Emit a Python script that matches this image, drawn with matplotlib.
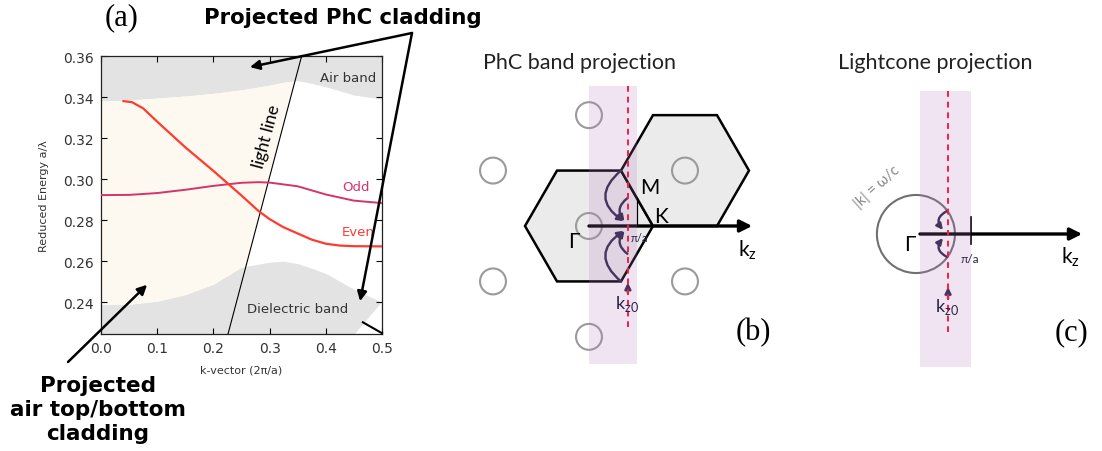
import numpy as np
import matplotlib.pyplot as plt
from matplotlib.patches import Polygon, Circle, Rectangle, FancyArrowPatch

W, H = 1102, 452

# --- panel (a): projected band diagram ---
k_band = [0.0, 0.05, 0.1, 0.15, 0.2, 0.25, 0.3, 0.325, 0.35, 0.375, 0.4, 0.45, 0.5]
air_low = [0.338, 0.3385, 0.3395, 0.3405, 0.3418, 0.3435, 0.3458, 0.3472, 0.348,
           0.3467, 0.345, 0.341, 0.339]
diel_top = [0.239, 0.239, 0.2405, 0.2437, 0.2488, 0.2571, 0.2595, 0.26, 0.2588,
            0.2565, 0.254, 0.2463, 0.24]
diel_cut_k = [0.452, 0.5]
diel_cut_w = [0.2245, 0.24]

k_even = [0.04, 0.055, 0.075, 0.1, 0.15, 0.2, 0.25, 0.28, 0.3, 0.325, 0.35, 0.375,
          0.4, 0.425, 0.45, 0.5]
w_even = [0.338, 0.3375, 0.3345, 0.328, 0.3155, 0.304, 0.292, 0.2845, 0.2805,
          0.2765, 0.2735, 0.2705, 0.2685, 0.2676, 0.2673, 0.2672]
k_odd = [0.0, 0.05, 0.1, 0.15, 0.2, 0.25, 0.28, 0.3, 0.35, 0.4, 0.45, 0.5]
w_odd = [0.2922, 0.2923, 0.2932, 0.2948, 0.2967, 0.2982, 0.2985, 0.2983, 0.2965,
         0.2925, 0.2895, 0.2883]

k_light = [0.226, 0.357]
w_light = [0.2245, 0.36]

k_ticks = [0.0, 0.1, 0.2, 0.3, 0.4, 0.5]
w_ticks = [0.24, 0.26, 0.28, 0.30, 0.32, 0.34, 0.36]
k_lim = (0.0, 0.5)
w_lim = (0.2245, 0.36)

GRAY = '#e3e3e3'
CREAM = '#fdf9f0'
RED = '#ff3b2f'
CRIMSON = '#d6336c'
NAVY = '#2b2347'
BAND = '#b478be'
SANS = ['Lato', 'DejaVu Sans']
SERIF = 'Liberation Serif'

fig = plt.figure(figsize=(W / 100, H / 100), dpi=100)
ax = fig.add_axes([101 / W, 1 - 335 / H, 281 / W, 278 / H])
ax.set_xlim(*k_lim)
ax.set_ylim(*w_lim)

# air band above, dielectric band below
ax.fill_between(k_band, air_low, w_lim[1], color=GRAY, lw=0, zorder=1)
diel = ax.fill_between(k_band, w_lim[0], diel_top, color=GRAY, lw=0, zorder=1)
diel_clip = Polygon([(k_lim[0], w_lim[0]), (diel_cut_k[0], diel_cut_w[0]),
                     (diel_cut_k[1], diel_cut_w[1]), (k_lim[1], w_lim[1]),
                     (k_lim[0], w_lim[1])], transform=ax.transData)
diel.set_clip_path(diel_clip)

# guided region below the light line
cream = ax.fill_between(k_band, diel_top, air_low, color=CREAM, lw=0, zorder=1)
cone = Polygon([(k_lim[0], w_light[0]), (k_light[0], w_light[0]),
                (k_light[1], w_light[1]), (k_lim[0], w_light[1])],
               transform=ax.transData)
cream.set_clip_path(cone)

ax.plot(k_light, w_light, color='black', lw=0.8, zorder=3)
ax.plot(k_odd, w_odd, color=CRIMSON, lw=1.4, zorder=4)
ax.plot(k_even, w_even, color=RED, lw=1.6, zorder=4)
ax.plot([0.466, 0.5], [0.2302, 0.2249], color='black', lw=1.5, zorder=5, clip_on=False)

ax.text(0.294, 0.321, 'light line', rotation=75, fontsize=12.5, ha='center',
        va='center', family=SANS)
ax.text(0.479, 0.2966, 'Odd', color=CRIMSON, fontsize=9.5, ha='right', va='center')
ax.text(0.486, 0.2746, 'Even', color=RED, fontsize=9.5, ha='right', va='center')
ax.text(0.49, 0.3497, 'Air band', color='#333333', fontsize=9.5, ha='right', va='center')
ax.text(0.349, 0.2371, 'Dielectric band', color='#333333', fontsize=9.5, ha='center',
        va='center')

ax.set_xticks(k_ticks)
ax.set_yticks(w_ticks)
ax.set_xticklabels([f'{v:.1f}' for v in k_ticks])
ax.set_yticklabels([f'{v:.2f}' for v in w_ticks])
ax.tick_params(direction='in', top=True, right=True, length=4, width=0.8,
               labelsize=10, labelcolor='#333333', pad=5)
for s in ax.spines.values():
    s.set_linewidth(0.9)
    s.set_color('#222222')
ax.set_xlabel('k-vector (2π/a)', fontsize=8, color='#333333', labelpad=7)
ax.set_ylabel('Reduced Energy a/λ', fontsize=8, color='#333333', labelpad=10)


def fpx(x, y):
    return (x / W, 1 - y / H)


fig.text(*fpx(122, 18), '(a)', family=SERIF, fontsize=22, ha='center', va='center')
fig.text(*fpx(343, 18), 'Projected PhC cladding', fontsize=15.3, weight='bold',
         ha='center', va='center')
fig.text(*fpx(98, 410), 'Projected\nair top/bottom\ncladding', fontsize=15.5,
         weight='bold', ha='center', va='center', linespacing=1.24)

arrow_kw = dict(arrowstyle='-|>', color='black', lw=1.8, mutation_scale=14,
                shrinkA=0, shrinkB=0)
for target in [(0.265, 0.3546), (0.461, 0.2405)]:
    ax.annotate('', xy=target, xycoords='data', xytext=fpx(412, 34),
                textcoords='figure fraction', arrowprops=arrow_kw, zorder=6)
ax.annotate('', xy=(0.082, 0.2485), xycoords='data', xytext=fpx(68, 363),
            textcoords='figure fraction', arrowprops=arrow_kw, zorder=6)


def k_axes(gx, gy, scale):
    """Overlay axes in units of pi/a with Gamma at pixel (gx, gy)."""
    a = fig.add_axes([0, 0, 1, 1])
    a.set_xlim(-gx / scale, (W - gx) / scale)
    a.set_ylim(-(H - gy) / scale, gy / scale)
    a.axis('off')
    return a


def curl(a, p0, p1, rad):
    a.add_patch(FancyArrowPatch(p0, p1, connectionstyle=f'arc3,rad={rad}',
                                arrowstyle='-|>', mutation_scale=9, lw=1.7,
                                color=NAVY, shrinkA=0, shrinkB=0, zorder=5))


# --- panel (b): Brillouin zone of the PhC ---
bx = k_axes(589, 227, 48)
R = 4 / 3                      # Gamma-K distance in units of pi/a
G = np.sqrt(3) * R             # reciprocal lattice spacing
ang = np.radians(np.arange(6) * 60)
hexagon = np.c_[R * np.cos(ang), R * np.sin(ang)]
for cx, cy in [(0, 0), (G * np.cos(np.pi / 6), G * np.sin(np.pi / 6))]:
    bx.add_patch(Polygon(hexagon + [cx, cy], closed=True, facecolor='#ebebeb',
                         edgecolor='black', lw=1.8, zorder=2))
lat_ang = np.radians(np.arange(6) * 60 + 30)
lattice = [(0, 0)] + list(zip(G * np.cos(lat_ang), G * np.sin(lat_ang)))
for cx, cy in lattice:
    bx.add_patch(Circle((cx, cy), 0.27, fill=False, edgecolor='#9a9a9a', lw=1.5,
                        zorder=3))

mx = R * np.cos(np.pi / 6) ** 2
my = R * np.cos(np.pi / 6) * np.sin(np.pi / 6)
bx.plot([mx, mx], [0, my], color='black', lw=0.9, zorder=4)
bx.add_patch(FancyArrowPatch((0, 0), (3.4, 0), arrowstyle='-|>', mutation_scale=18,
                             lw=2.4, color='black', shrinkA=0, shrinkB=0, zorder=4))
kz0_b = 0.81
vx, vy = R * np.cos(np.pi / 3), R * np.sin(np.pi / 3)
curl(bx, (vx, vy), (0.72, 0.1), 0.65)
curl(bx, (0.8, 0.58), (0.74, 0.1), 0.5)
curl(bx, (vx, -vy), (0.72, -0.1), -0.65)
curl(bx, (0.8, -0.58), (0.74, -0.1), -0.5)
curl(bx, (kz0_b, -1.4), (kz0_b, -1.18), 0)

bx.add_patch(Rectangle((0, -2.875), 1.0, 5.8, facecolor=BAND, alpha=0.2, lw=0,
                       zorder=6))
bx.plot([kz0_b, kz0_b], [2.92, -2.1], color='#ee2244', lw=1.4, ls=(0, (3, 2.5)),
        zorder=7)

bx.text(-0.31, -0.31, 'Γ', fontsize=15, ha='center', va='center', family=SANS, zorder=8)
bx.text(1.27, 0.81, 'M', fontsize=15, ha='center', va='center', family=SANS, zorder=8)
bx.text(1.5, 0.21, 'K', fontsize=15, ha='center', va='center', family=SANS, zorder=8)
bx.text(1.04, -0.25, 'π/a', fontsize=8, ha='center', va='center', family=SANS,
        color=NAVY, zorder=8)
bx.text(3.31, -0.48, 'k$_\\mathregular{z}$', fontsize=15, ha='center', va='center',
        family=SANS, zorder=8)
bx.text(0.79, -1.6, 'k$_\\mathregular{z0}$', fontsize=13, ha='center', va='center',
        family=SANS, color=NAVY, zorder=8)
bx.text(3.42, -2.2, '(b)', fontsize=22, ha='center', va='center', family=SERIF, zorder=8)
bx.text(-0.19, 3.42, 'PhC band projection', fontsize=15.5, ha='center', va='center',
        family=SANS, color='#222222', zorder=8)

# --- panel (c): light cone ---
cx_ = k_axes(920, 235, 51)
kz0_c = 0.55
cx_.add_patch(Circle((-0.08, 0), 0.765, fill=False, edgecolor='#707070', lw=1.5,
                     zorder=3))
cx_.add_patch(FancyArrowPatch((0, 0), (3.18, 0), arrowstyle='-|>', mutation_scale=18,
                              lw=2.4, color='black', shrinkA=0, shrinkB=0, zorder=4))
cx_.plot([1, 1], [0.33, -0.2], color='black', lw=1.2, zorder=4)
curl(cx_, (0.53, 0.45), (0.45, 0.08), 0.6)
curl(cx_, (0.53, -0.45), (0.45, -0.08), -0.6)
curl(cx_, (kz0_c, -1.27), (kz0_c, -1.04), 0)
cx_.add_patch(Rectangle((0, -2.61), 1.0, 5.41, facecolor=BAND, alpha=0.2, lw=0,
                        zorder=6))
cx_.plot([kz0_c, kz0_c], [2.8, -1.92], color='#ee2244', lw=1.4, ls=(0, (3, 2.5)),
         zorder=7)

cx_.text(-0.2, -0.2, 'Γ', fontsize=15, ha='center', va='center', family=SANS, zorder=8)
cx_.text(0.98, -0.49, 'π/a', fontsize=8.5, ha='center', va='center', family=SANS,
         color=NAVY, zorder=8)
cx_.text(2.96, -0.43, 'k$_\\mathregular{z}$', fontsize=15, ha='center', va='center',
         family=SANS, zorder=8)
cx_.text(0.53, -1.41, 'k$_\\mathregular{z0}$', fontsize=13, ha='center', va='center',
         family=SANS, color=NAVY, zorder=8)
cx_.text(-0.84, 0.94, '|k| = ω/c', fontsize=10.5, rotation=42, ha='center', va='center',
         family=SANS, color='#888888', zorder=8)
cx_.text(2.98, -1.92, '(c)', fontsize=22, ha='center', va='center', family=SERIF, zorder=8)
cx_.text(0.29, 3.37, 'Lightcone projection', fontsize=15.5, ha='center', va='center',
         family=SANS, color='#222222', zorder=8)

fig.savefig('out.png', dpi=100, facecolor='white')
